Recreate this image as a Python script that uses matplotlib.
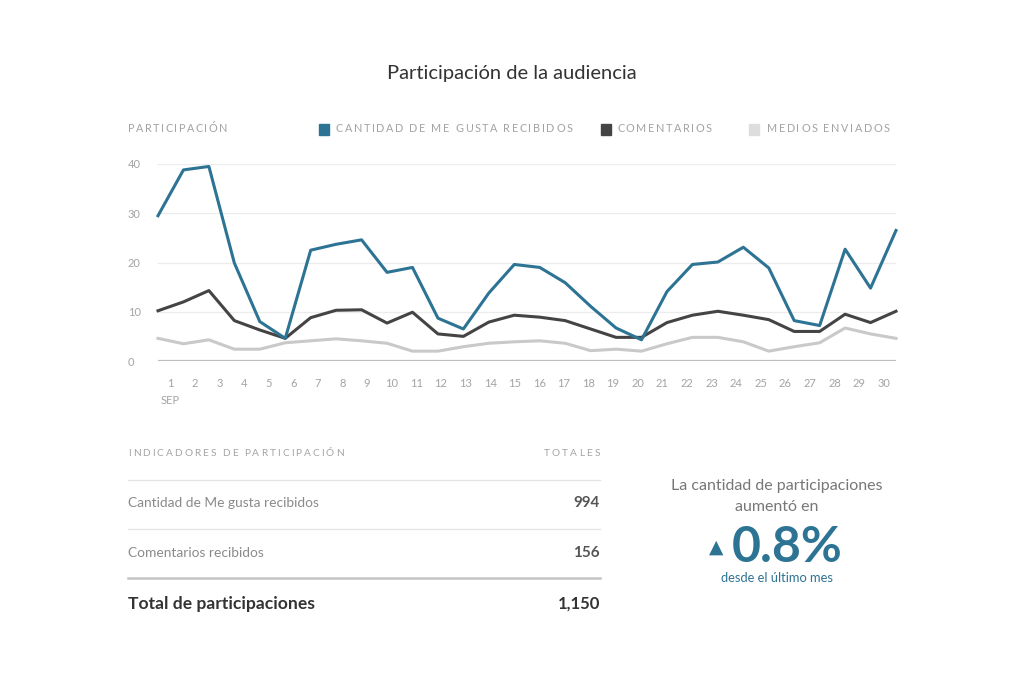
import matplotlib.pyplot as plt

# Datos (participaciones diarias, septiembre)
days = list(range(1, 31))
me_gusta = [29.5, 38.8, 39.5, 19.9, 8.0, 4.6, 22.5, 23.7, 24.6, 18.0,
            19.0, 8.7, 6.5, 13.8, 19.6, 19.0, 15.9, 11.1, 6.7, 4.3,
            14.1, 19.6, 20.1, 23.1, 18.9, 8.2, 7.2, 22.7, 14.8, 26.5]
comentarios = [10.2, 12.0, 14.3, 8.2, 6.3, 4.6, 8.8, 10.3, 10.4, 7.7,
               9.9, 5.5, 5.0, 7.9, 9.3, 8.9, 8.2, 6.5, 4.8, 4.8,
               7.8, 9.3, 10.1, 9.3, 8.4, 6.0, 6.0, 9.5, 7.8, 10.1]
medios = [4.6, 3.5, 4.3, 2.4, 2.4, 3.7, 4.1, 4.5, 4.1, 3.6,
          2.0, 2.0, 2.9, 3.6, 3.9, 4.1, 3.6, 2.1, 2.4, 2.0,
          3.5, 4.8, 4.8, 3.9, 2.0, 2.9, 3.7, 6.7, 5.5, 4.6]
y_ticks = [0, 10, 20, 30, 40]

series_names = ['CANTIDAD DE ME GUSTA RECIBIDOS', 'COMENTARIOS', 'MEDIOS ENVIADOS']
table_rows = ['Cantidad de Me gusta recibidos', 'Comentarios recibidos']
table_vals = ['994', '156']
total_label = 'Total de participaciones'
total_val = '1,150'
cambio = '0.8%'

BLUE = '#2d7394'
DARK = '#444444'
LIGHT = '#c9c9c9'
GREY = '#a3a3a3'

plt.rcParams['font.family'] = ['Lato', 'DejaVu Sans']

W, H = 1024, 683
fig = plt.figure(figsize=(W / 100, H / 100), dpi=100)
fig.patch.set_facecolor('white')
renderer = fig.canvas.get_renderer()


def fx(x):
    return x / W


def fy(y):
    return 1 - y / H


def text_w(s, size):
    # ancho en píxeles de un texto
    t = fig.text(0, 0, s, fontsize=size)
    w = t.get_window_extent(renderer).width
    t.remove()
    return w


def spaced(x, y, s, size, color, spacing, ha='left'):
    # texto en mayúsculas con espaciado entre letras
    total = text_w(s, size) + spacing * (len(s) - 1)
    x0 = x - total if ha == 'right' else x
    for i, ch in enumerate(s):
        if ch == ' ':
            continue
        off = text_w(s[:i], size) if i else 0
        fig.text(fx(x0 + off + i * spacing), fy(y), ch, ha='left', va='center',
                 fontsize=size, color=color)


# --- título
fig.text(fx(512), fy(73), 'Participación de la audiencia', ha='center', va='center',
         fontsize=14.5, color='#333333')

# --- gráfico de líneas
ax = fig.add_axes([fx(158), fy(361), fx(896) - fx(158), fy(164) - fy(361)])
x = list(range(len(days)))
ax.plot(x, medios, color=LIGHT, lw=2.2, clip_on=False, zorder=3)
ax.plot(x, comentarios, color=DARK, lw=2.2, clip_on=False, zorder=4)
ax.plot(x, me_gusta, color=BLUE, lw=2.2, clip_on=False, zorder=5)
ax.set_xlim(0, len(days) - 1)
ax.set_ylim(0, 40)

for v in y_ticks:
    ax.axhline(v, color='#bdbdbd' if v == 0 else '#ececec', lw=1.6 if v == 0 else 0.9, zorder=1)

n = len(days)
ax.set_xticks([(i + 0.5) * (n - 1) / n for i in range(n)])
ax.set_xticklabels([('%d\nSEP' % d) if d == 1 else str(d) for d in days],
                   fontsize=8, color=GREY, linespacing=1.7)
ax.set_yticks(y_ticks)
ax.set_yticklabels([str(v) for v in y_ticks], fontsize=8, color=GREY, ha='left')
ax.tick_params(axis='y', length=0, pad=21.6)
ax.tick_params(axis='x', length=0, pad=12)
for s in ax.spines.values():
    s.set_visible(False)

# --- encabezado / leyenda
spaced(128, 129, 'PARTICIPACIÓN', 7.8, GREY, 1.5)
legend_pos = [(319, 336), (601, 617), (749, 767)]
for (sx, tx), name, c in zip(legend_pos, series_names, [BLUE, DARK, '#dddddd']):
    fig.patches.append(plt.Rectangle((fx(sx), fy(134.5)), fx(10), 11 / H, transform=fig.transFigure,
                                     color=c, figure=fig))
    spaced(tx, 129, name, 7.8, GREY, 1.6)

# --- tabla
L, R = 128, 600
spaced(L, 453, 'INDICADORES DE PARTICIPACIÓN', 7.3, GREY, 2.0)
spaced(R, 453, 'TOTALES', 7.3, GREY, 2.2, ha='right')
for yl, lw, c in [(480, 0.9, '#e3e3e3'), (529, 0.9, '#e3e3e3'), (578, 1.8, '#c4c4c4')]:
    fig.add_artist(plt.Line2D([fx(L), fx(R)], [fy(yl), fy(yl)], transform=fig.transFigure, color=c, lw=lw))
for yr, lab, val in zip([503, 553], table_rows, table_vals):
    fig.text(fx(L), fy(yr), lab, ha='left', va='center', fontsize=9.9, color='#8a8a8a')
    fig.text(fx(R), fy(yr), val, ha='right', va='center', fontsize=11, color='#555555', fontweight='bold')
fig.text(fx(L), fy(604), total_label, ha='left', va='center', fontsize=12.6, color='#333333', fontweight='bold')
fig.text(fx(R), fy(604), total_val, ha='right', va='center', fontsize=12, color='#333333', fontweight='bold')

# --- indicador de cambio
cx = 777
fig.text(fx(cx), fy(486), 'La cantidad de participaciones', ha='center', va='center', fontsize=11.5, color='#777777')
fig.text(fx(cx), fy(507), 'aumentó en', ha='center', va='center', fontsize=11.5, color='#777777')
fig.text(fx(723), fy(547), '▲', ha='right', va='center', fontsize=13.5, color=BLUE, family=['DejaVu Sans'])
fig.text(fx(732), fy(548), cambio, ha='left', va='center', fontsize=36, color=BLUE, fontweight='bold')
fig.text(fx(cx), fy(578), 'desde el último mes', ha='center', va='center', fontsize=9.3, color=BLUE)

fig.savefig('out.png', dpi=100, facecolor='white')
